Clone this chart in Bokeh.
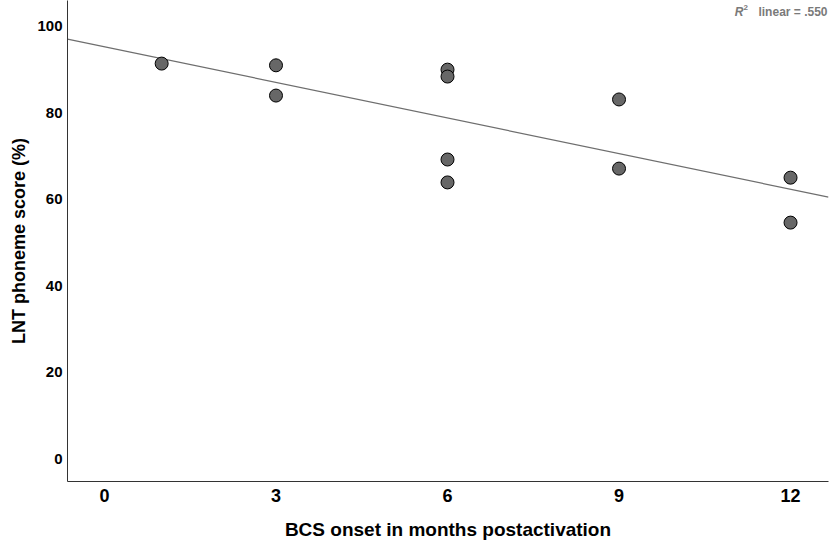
import numpy as np
from bokeh.plotting import figure
from bokeh.models import Range1d, FixedTicker, Label, ColumnDataSource, Title
from bokeh.embed import file_html
from bokeh.resources import INLINE

# Data
onset_months = [1, 3, 3, 6, 6, 6, 6, 9, 9, 12, 12]
lnt_score = [91.4, 91.0, 84.0, 90.0, 88.4, 69.2, 63.9, 83.1, 67.1, 65.0, 54.6]
x_ticks = [0, 3, 6, 9, 12]
y_ticks = [0, 20, 40, 60, 80, 100]
r2_text = "linear = .550"

FONT = "Liberation Sans"

x0, x1 = -0.647, 12.664
y0, y1 = -5.31, 106.0

p = figure(width=830, height=542, output_backend="svg", toolbar_location=None,
           x_range=Range1d(x0, x1), y_range=Range1d(y0, y1),
           min_border_left=67, min_border_right=2, min_border_top=0, min_border_bottom=60)
p.outline_line_color = None
p.background_fill_color = "white"
p.border_fill_color = "white"
p.xgrid.visible = False
p.ygrid.visible = False

for ax in (p.xaxis[0], p.yaxis[0]):
    ax.major_tick_line_color = None
    ax.minor_tick_line_color = None
    ax.major_tick_in = 0
    ax.major_tick_out = 0
    ax.minor_tick_in = 0
    ax.minor_tick_out = 0
    ax.axis_line_color = "#333333"
    ax.axis_line_width = 1
    ax.major_label_text_font = FONT
    ax.major_label_text_font_style = "bold"
    ax.major_label_text_color = "black"

p.xaxis.ticker = FixedTicker(ticks=x_ticks)
p.yaxis.ticker = FixedTicker(ticks=y_ticks)
p.xaxis.major_label_text_font_size = "18px"
p.yaxis.major_label_text_font_size = "15px"
p.xaxis.major_label_standoff = 7
p.yaxis.major_label_standoff = 5

p.xaxis.axis_label = "BCS onset in months postactivation"
p.xaxis.axis_label_text_font = FONT
p.xaxis.axis_label_text_font_style = "bold"
p.xaxis.axis_label_text_font_size = "19px"
p.xaxis.axis_label_text_color = "black"
p.xaxis.axis_label_standoff = 14

# y-axis title as a left-side title, shifted up to match reference
p.add_layout(Title(text="LNT phoneme score (%)", align="center", offset=12,
                   text_font=FONT, text_font_style="bold",
                   text_font_size="18px", text_color="black",
                   standoff=12), "left")

# Fit line (computed from the data)
slope, intercept = np.polyfit(onset_months, lnt_score, 1)
p.line([x0, x1], [intercept + slope * x0, intercept + slope * x1],
       line_color="#6e6e6e", line_width=1.2)

src = ColumnDataSource(dict(x=onset_months, y=lnt_score))
p.scatter("x", "y", source=src, size=13, fill_color="#676767",
          line_color="black", line_width=1)

# R^2 annotation
p.add_layout(Label(x=760, y=470, x_units="screen", y_units="screen",
                   text=r2_text, text_align="right", text_baseline="middle",
                   text_font=FONT, text_font_style="bold",
                   text_font_size="12px", text_color="#7a7a7a"))
p.add_layout(Label(x=676, y=474, x_units="screen", y_units="screen",
                   text="2", text_align="left", text_baseline="middle",
                   text_font=FONT, text_font_style="bold",
                   text_font_size="8px", text_color="#7a7a7a"))
p.add_layout(Label(x=676, y=470, x_units="screen", y_units="screen",
                   text="R", text_align="right", text_baseline="middle",
                   text_font=FONT, text_font_style="bold italic",
                   text_font_size="12px", text_color="#7a7a7a"))

open("out.html", "w").write(file_html(p, INLINE))
